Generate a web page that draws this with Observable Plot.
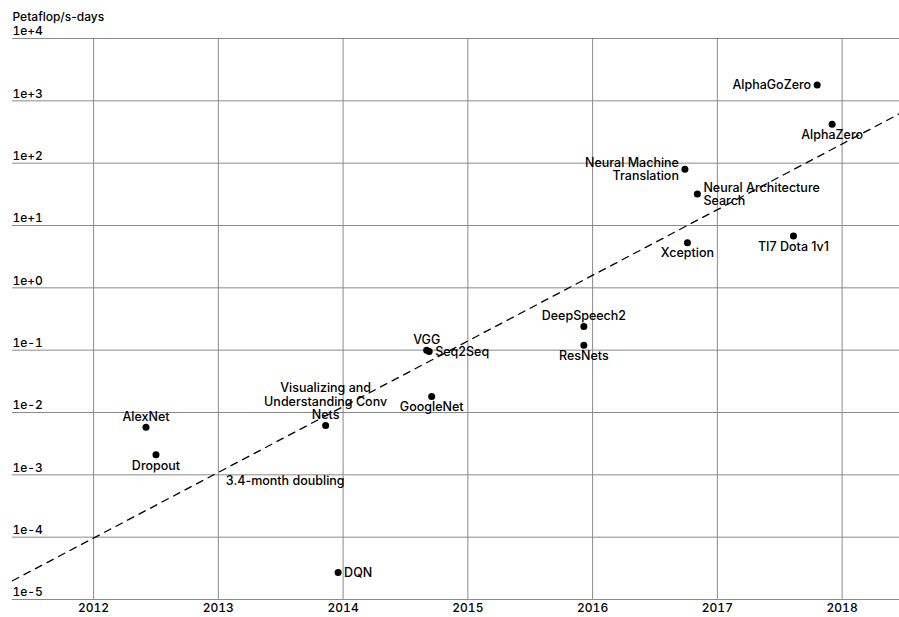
<!DOCTYPE html>
<html><head><meta charset="utf-8">
<script src="https://cdn.jsdelivr.net/npm/d3@7"></script>
<script src="https://cdn.jsdelivr.net/npm/@observablehq/plot@0.6"></script>
<style>
body{margin:0;background:#fff;}
#chart svg{font-family:Inter,"Noto Sans",sans-serif;}
</style>
</head><body><div id="chart"></div>
<script>
// ---- data ----
const models = ["AlexNet","Dropout","Visualizing and\nUnderstanding Conv\nNets","DQN","VGG","Seq2Seq","GoogleNet","DeepSpeech2","ResNets","Neural Machine\nTranslation","Neural Architecture\nSearch","Xception","TI7 Dota 1v1","AlphaGoZero","AlphaZero"];
const years   = [2012.42, 2012.50, 2013.86, 2013.96, 2014.67, 2014.69, 2014.71, 2015.93, 2015.93, 2016.74, 2016.84, 2016.76, 2017.61, 2017.80, 2017.92];
const compute = [0.0058, 0.0021, 0.0062, 2.7e-5, 0.10, 0.095, 0.018, 0.24, 0.12, 80, 32, 5.3, 6.8, 1800, 420];
const yearTicks = [2012, 2013, 2014, 2015, 2016, 2017, 2018];
const computeTicks = [1e-5, 1e-4, 1e-3, 1e-2, 1e-1, 1e0, 1e1, 1e2, 1e3, 1e4];
const trendYears = [2011.35, 2018.46];
const trendCompute = [2.0e-5, 620];
const trendLabel = "3.4-month doubling";
const trendLabelYear = 2013.06;
const trendLabelCompute = 8e-4;
const yLabel = "Petaflop/s-days";

// ---- label placement (style) ----
const placement = {
  "AlexNet":"above","VGG":"above","DeepSpeech2":"above","Visualizing and\nUnderstanding Conv\nNets":"above",
  "Dropout":"below","GoogleNet":"below","ResNets":"below","Xception":"below","TI7 Dota 1v1":"below","AlphaZero":"below",
  "DQN":"right","Seq2Seq":"right","Neural Architecture\nSearch":"right",
  "Neural Machine\nTranslation":"left","AlphaGoZero":"left"
};
const pts = models.map((m,i)=>({name:m, year:years[i], value:compute[i], pos:placement[m]}));
const trend = trendYears.map((y,i)=>({year:y, value:trendCompute[i]}));
const sel = p => pts.filter(d=>d.pos===p);

const fs = 12;
const lfs = 12.5;
const lw = 500;
const lh = 1.1;
const chart = Plot.plot({
  width: 899, height: 617,
  marginLeft: 12, marginRight: 0, marginTop: 38, marginBottom: 18,
  style: {fontSize: fs + "px", color: "#000", background: "#fff"},
  x: {domain: [2011.35, 2018.46]},
  y: {type: "log", domain: [1e-5, 1e4]},
  marks: [
    Plot.gridX(yearTicks, {stroke: "#8a8a8a", strokeOpacity: 1}),
    Plot.gridY(computeTicks, {stroke: "#8a8a8a", strokeOpacity: 1}),
    Plot.axisX(yearTicks, {tickSize: 0, tickPadding: 4, tickFormat: d3.format("d"), fontWeight: 500, fontSize: fs, label: null}),
    Plot.axisY(computeTicks, {tickSize: 0, tickPadding: 0, textAnchor: "start", dy: -7, tickFormat: d3.format(".0e"), fontWeight: 500, fontSize: fs, label: null}),
    Plot.text([yLabel], {frameAnchor: "top-left", dy: -26, text: d=>d, textAnchor: "start", fontSize: fs, fontWeight: 500}),
    Plot.line(trend, {x: "year", y: "value", stroke: "#000", strokeWidth: 1.3, strokeDasharray: "7,6"}),
    Plot.text([trendLabel], {x: () => trendLabelYear, y: () => trendLabelCompute, text: d=>d, textAnchor: "start", fontSize: lfs, fontWeight: lw}),
    Plot.dot(pts, {x: "year", y: "value", r: 3.5, fill: "#000"}),
    Plot.text(sel("above"), {x: "year", y: "value", text: "name", lineAnchor: "bottom", dy: -6, fontSize: lfs, fontWeight: lw, lineHeight: lh}),
    Plot.text(sel("below"), {x: "year", y: "value", text: "name", lineAnchor: "top", dy: 5, fontSize: lfs, fontWeight: lw, lineHeight: lh}),
    Plot.text(sel("right"), {x: "year", y: "value", text: "name", textAnchor: "start", dx: 6, fontSize: lfs, fontWeight: lw, lineHeight: lh}),
    Plot.text(sel("left"), {x: "year", y: "value", text: "name", textAnchor: "end", dx: -6, fontSize: lfs, fontWeight: lw, lineHeight: lh})
  ]
});
document.getElementById("chart").appendChild(chart);
</script>
</body></html>
